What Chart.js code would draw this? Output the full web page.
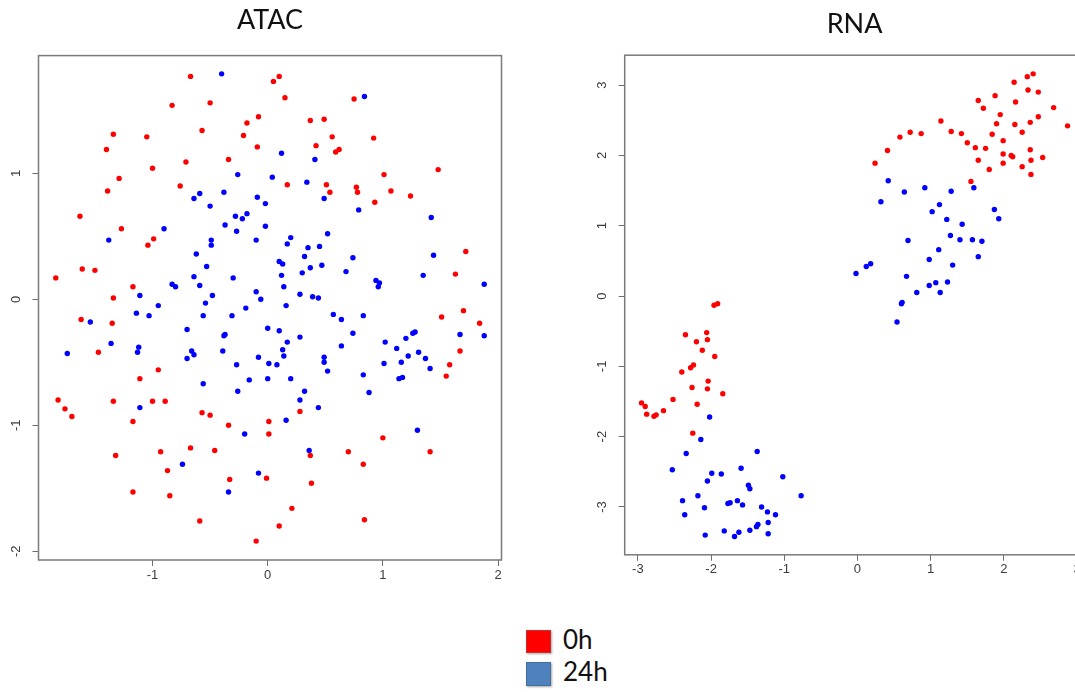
<!DOCTYPE html>
<html>
<head>
<meta charset="utf-8">
<script src="https://cdn.jsdelivr.net/npm/chart.js@4.4.1/dist/chart.umd.min.js"></script>
<style>
  html, body { margin: 0; padding: 0; width: 1075px; height: 692px; overflow: hidden; background: #fff; }
  .panel { position: absolute; top: 0; }
  .key { position: absolute; left: 526px; width: 25px; box-shadow: 1px 1px 2px rgba(0,0,0,0.35); }
  .keytext { position: absolute; left: 563px; font-family: Lato, "Open Sans", sans-serif; font-size: 26px; line-height: 1; color: #111; }
</style>
</head>
<body>
<div class="panel" style="left:0; width:530px; height:600px;"><canvas id="atac" width="530" height="600"></canvas></div>
<div class="panel" style="left:560px; width:540px; height:600px;"><canvas id="rna" width="540" height="600"></canvas></div>

<div class="key" style="top:630px; height:23px; background:#ff0000; border:1px solid #c83030; box-sizing:border-box;"></div>
<div class="keytext" style="top:626px;">0h</div>
<div class="key" style="top:662px; height:24px; background:#4f81bd; border:1px solid #41709f; box-sizing:border-box;"></div>
<div class="keytext" style="top:658px;">24h</div>

<script>
// ---- ATAC embedding ----
const atacX0h = [-0.67,-0.50,-0.83,-0.18,-0.08,-0.57,-1.34,-1.05,-0.21,-0.09,-1.40,-0.34,-0.71,-1.00,-1.29,-1.39,-0.76,-1.63,-1.27,-0.99,-1.04,-1.61,-1.50,-1.84,-1.17,-1.34,
  0.05,0.10,0.15,0.75,0.37,0.49,0.56,0.92,0.42,0.59,0.62,1.48,1.01,0.17,0.51,0.54,0.77,0.78,1.07,1.24,0.93,1.72,1.63,
  -1.62,-1.35,-1.47,-0.95,-1.11,-1.82,-1.34,-1.00,-0.89,-1.76,-1.70,-1.17,-0.57,-0.50,-0.34,-0.67,-0.46,-1.32,-0.93,-0.87,-0.33,-1.17,-0.85,-0.59,-0.10,
  1.51,1.70,1.84,1.67,1.58,1.55,0.28,0.01,0.01,1.00,0.70,1.41,0.37,0.83,-0.01,0.38,0.21,0.84,0.10];
const atacY0h = [1.77,1.56,1.54,1.40,1.45,1.34,1.31,1.29,1.30,1.21,1.19,1.11,1.09,1.04,0.96,0.86,0.90,0.66,0.56,0.48,0.43,0.24,0.23,0.17,0.10,0.01,
  1.73,1.77,1.60,1.59,1.42,1.43,1.29,1.28,1.22,1.17,1.19,1.03,0.99,0.91,0.91,0.85,0.89,0.85,0.86,0.82,0.77,0.38,0.20,
  -0.16,-0.19,-0.42,-0.56,-0.63,-0.80,-0.81,-0.81,-0.81,-0.87,-0.93,-0.97,-0.90,-0.92,-1.00,-1.18,-1.20,-1.24,-1.21,-1.36,-1.43,-1.53,-1.56,-1.76,-1.92,
  -0.14,-0.09,-0.19,-0.41,-0.52,-0.61,-0.89,-0.97,-1.07,-1.10,-1.21,-1.21,-1.24,-1.31,-1.42,-1.46,-1.66,-1.75,-1.80];
const atacX24h = [-0.40,-0.26,-0.09,-0.59,-0.64,-0.38,-0.50,-0.28,-0.22,-0.18,-0.37,-0.27,-0.90,-1.38,-0.49,-0.49,-0.10,-0.62,-0.53,-0.64,-0.30,-0.83,-0.80,-0.59,-0.10,-1.11,-0.48,-0.06,
  0.84,0.12,0.41,0.04,0.34,0.49,-0.02,0.79,1.42,-0.02,0.52,0.20,0.17,0.35,0.45,0.32,0.74,1.44,0.10,0.13,0.47,0.37,0.30,0.68,0.12,1.35,0.14,0.94,0.97,0.96,1.88,0.28,0.39,0.44,
  -0.95,-0.54,-0.19,-1.14,-1.03,-0.56,-0.31,-1.54,-0.70,-0.38,-0.37,-1.36,-1.12,-1.13,-1.74,-0.66,-0.64,-0.70,-0.39,-0.27,-0.08,-0.16,-0.56,-0.26,-1.11,-0.20,-0.74,-0.34,-0.08,
  0.16,0.57,0.64,0.83,0.00,0.10,0.17,0.28,0.74,0.64,0.13,0.14,0.01,0.08,0.49,0.49,0.52,0.00,0.20,0.83,0.88,0.32,0.28,0.44,0.16,1.02,1.20,1.26,1.28,1.12,1.31,1.22,1.01,1.16,1.37,1.41,1.14,1.17,1.67,1.88,1.30,0.36];
const atacY24h = [1.79,0.99,0.81,0.84,0.80,0.85,0.74,0.66,0.64,0.68,0.59,0.54,0.56,0.47,0.47,0.43,0.47,0.36,0.26,0.18,0.17,0.12,0.10,0.11,0.06,0.03,0.03,0.00,
  1.61,1.16,1.11,0.97,0.93,0.80,0.76,0.71,0.65,0.58,0.52,0.49,0.44,0.41,0.42,0.34,0.33,0.35,0.30,0.28,0.27,0.25,0.21,0.22,0.19,0.19,0.10,0.15,0.13,0.10,0.12,0.04,0.02,0.01,
  -0.05,-0.03,-0.07,-0.11,-0.13,-0.13,-0.13,-0.18,-0.24,-0.29,-0.28,-0.35,-0.38,-0.42,-0.43,-0.41,-0.44,-0.47,-0.41,-0.52,-0.46,-0.64,-0.67,-0.73,-0.86,-1.07,-1.31,-1.53,-1.38,
  -0.05,-0.12,-0.16,-0.13,-0.23,-0.25,-0.34,-0.30,-0.27,-0.37,-0.40,-0.45,-0.51,-0.52,-0.46,-0.50,-0.57,-0.63,-0.63,-0.60,-0.74,-0.73,-0.80,-0.86,-0.96,-0.34,-0.31,-0.27,-0.26,-0.39,-0.42,-0.45,-0.51,-0.50,-0.47,-0.55,-0.63,-0.62,-0.28,-0.29,-1.04,-1.20];

// ---- RNA embedding ----
const rnaX0h = [2.40,2.32,2.14,2.33,2.47,1.88,1.65,2.16,1.72,2.68,1.95,2.47,1.14,1.90,2.15,2.36,2.87,0.72,0.87,1.28,1.42,2.25,1.84,0.58,1.50,1.99,1.61,1.75,2.36,0.41,1.99,2.10,2.12,2.53,1.65,1.99,2.37,0.24,1.80,2.25,2.37,1.55,
  -1.96,-1.91,-2.35,-2.06,-2.05,-2.20,-2.12,-1.95,-2.24,-2.28,-2.40,-2.04,-2.26,-2.05,-1.84,-2.52,-2.95,-2.90,-2.19,-2.65,-2.88,-2.78,-2.75,-2.25];
const rnaY0h = [3.16,3.12,3.04,2.93,2.90,2.85,2.78,2.76,2.67,2.68,2.58,2.55,2.49,2.45,2.44,2.47,2.42,2.33,2.31,2.34,2.31,2.33,2.30,2.26,2.18,2.21,2.11,2.10,2.08,2.07,2.02,2.00,1.98,1.97,1.93,1.89,1.93,1.89,1.80,1.84,1.73,1.63,
  -0.13,-0.11,-0.55,-0.52,-0.62,-0.65,-0.77,-0.86,-0.98,-1.02,-1.08,-1.21,-1.30,-1.32,-1.39,-1.47,-1.52,-1.57,-1.54,-1.63,-1.68,-1.71,-1.69,-1.95];
const rnaX24h = [0.42,0.64,0.92,1.28,1.59,0.32,1.12,1.02,1.87,1.93,1.22,1.43,1.27,1.40,1.57,1.70,0.69,1.11,1.65,0.98,1.30,0.18,0.12,-0.02,0.67,0.98,1.07,1.23,0.81,1.13,0.61,0.60,0.54,
  -2.02,-2.14,-2.34,-1.37,-2.53,-1.99,-1.86,-1.59,-1.02,-2.05,-1.49,-1.47,-0.77,-2.18,-2.39,-1.77,-1.74,-1.64,-1.57,-2.09,-1.31,-1.23,-1.12,-2.36,-1.22,-1.36,-1.38,-1.82,-1.47,-1.62,-1.68,-1.22,-2.08];
const rnaY24h = [1.64,1.48,1.54,1.49,1.54,1.34,1.30,1.20,1.23,1.10,1.09,1.02,0.86,0.80,0.80,0.78,0.79,0.66,0.56,0.52,0.44,0.46,0.42,0.32,0.28,0.15,0.19,0.20,0.05,0.05,-0.09,-0.11,-0.37,
  -1.72,-2.04,-2.24,-2.21,-2.47,-2.52,-2.53,-2.45,-2.57,-2.63,-2.69,-2.74,-2.84,-2.84,-2.91,-2.95,-2.94,-2.91,-2.97,-3.01,-3.00,-3.07,-3.11,-3.11,-3.22,-3.25,-3.28,-3.34,-3.33,-3.36,-3.42,-3.38,-3.40];

// ---- tick values ----
const atacXTicks = [-1, 0, 1, 2];
const atacYTicks = [-2, -1, 0, 1];
const rnaXTicks = [-3, -2, -1, 0, 1, 2, 3];
const rnaYTicks = [-3, -2, -1, 0, 1, 2, 3];

const RED = '#ff0000';
const BLUE = '#0000ff';

function points(xs, ys) { return xs.map((x, i) => ({ x: x, y: ys[i] })); }

// Plot frame drawn around the whole plotting region
const framePlugin = {
  id: 'frame',
  beforeDatasetsDraw(chart) {
    const { ctx, chartArea: a } = chart;
    ctx.save();
    ctx.strokeStyle = '#7a7a7a';
    ctx.lineWidth = 1.5;
    ctx.strokeRect(a.left, a.top, a.right - a.left, a.bottom - a.top);
    ctx.restore();
  }
};

function axis(pos, min, max, ticks, size, pad) {
  const horizontal = pos === 'bottom';
  return {
    type: 'linear',
    position: pos,
    min: min,
    max: max,
    afterBuildTicks: s => { s.ticks = ticks.map(v => ({ value: v })); },
    afterFit: s => { if (horizontal) s.height = size; else s.width = size; },
    border: { display: false },
    grid: { drawOnChartArea: false, drawTicks: true, tickLength: 6, color: '#6e6e6e', lineWidth: 1 },
    ticks: {
      autoSkip: false,
      includeBounds: false,
      padding: pad,
      color: '#3c3c3c',
      font: { family: '"Liberation Sans", Arial, sans-serif', size: 13 },
      minRotation: horizontal ? 0 : 90,
      maxRotation: horizontal ? 0 : 90,
      crossAlign: 'center',
      callback: v => String(v)
    }
  };
}

function makeChart(id, title, titlePad, layoutPad, xs0, ys0, xs1, ys1, xr, yr, xTicks, yTicks, xH, yW) {
  return new Chart(document.getElementById(id), {
    type: 'scatter',
    data: {
      datasets: [
        { label: '0h', data: points(xs0, ys0), backgroundColor: RED, borderWidth: 0, pointRadius: 2.7, pointHoverRadius: 2.7 },
        { label: '24h', data: points(xs1, ys1), backgroundColor: BLUE, borderWidth: 0, pointRadius: 2.7, pointHoverRadius: 2.7 }
      ]
    },
    options: {
      responsive: false,
      devicePixelRatio: 1,
      animation: false,
      events: [],
      layout: { padding: layoutPad },
      plugins: {
        legend: { display: false },
        tooltip: { enabled: false },
        title: {
          display: true,
          text: title,
          fullSize: false,
          color: '#111',
          font: { family: 'Lato, "Open Sans", sans-serif', size: 27, weight: 'normal', lineHeight: 1.2 },
          padding: titlePad
        }
      },
      scales: {
        x: axis('bottom', xr[0], xr[1], xTicks, xH, 9),
        y: axis('left', yr[0], yr[1], yTicks, yW, 10)
      }
    },
    plugins: [framePlugin]
  });
}

makeChart('atac', 'ATAC', { top: 4, bottom: 19.2 }, { left: 0, right: 28.5, top: 0, bottom: 0 },
  atacX0h, atacY0h, atacX24h, atacY24h, [-1.99, 2.03], [-2.07, 1.935], atacXTicks, atacYTicks, 40, 38.5);

makeChart('rna', 'RNA', { top: 7.8, bottom: 15 }, { left: 0, right: 15.6, top: 0, bottom: 0 },
  rnaX0h, rnaY0h, rnaX24h, rnaY24h, [-3.18, 3.10], [-3.68, 3.425], rnaXTicks, rnaYTicks, 45.2, 64.7);
</script>
</body>
</html>
